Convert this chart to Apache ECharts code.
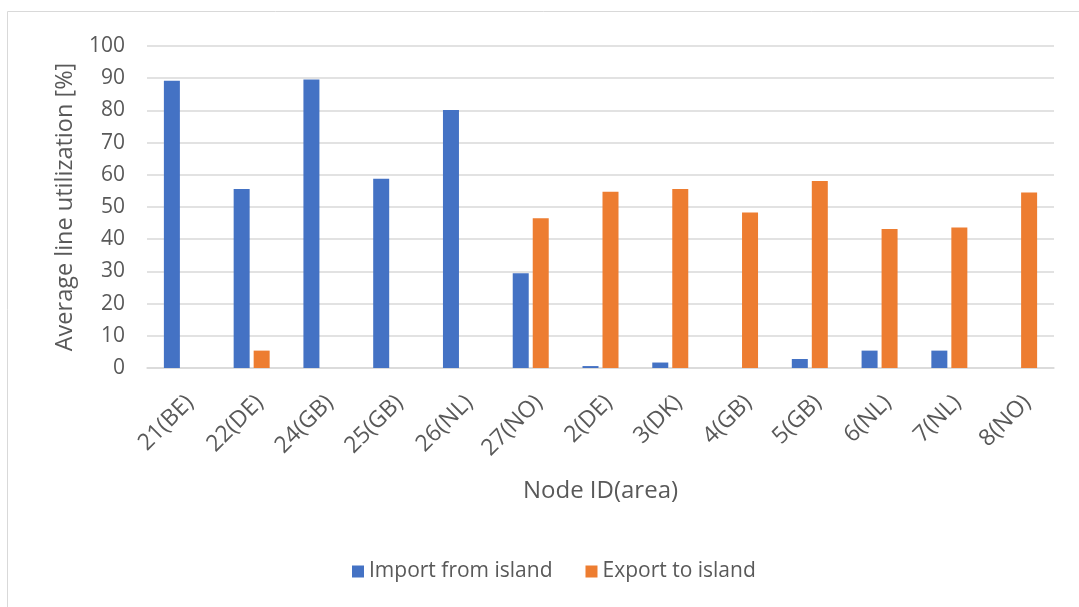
<!DOCTYPE html>
<html>
<head>
<meta charset="utf-8">
<script src="https://cdn.jsdelivr.net/npm/echarts@6/dist/echarts.min.js"></script>
<style>
  html, body { margin: 0; padding: 0; background: #fff; }
  #chart { width: 1079px; height: 607px; }
</style>
</head>
<body>
<div id="chart"></div>
<script>
// node IDs along the x axis
const categories = ['21(BE)', '22(DE)', '24(GB)', '25(GB)', '26(NL)', '27(NO)',
  '2(DE)', '3(DK)', '4(GB)', '5(GB)', '6(NL)', '7(NL)', '8(NO)'];
const importFromIsland = [89.2, 55.6, 89.6, 58.8, 80.1, 29.4, 0.6, 1.7, 0, 2.8, 5.4, 5.4, 0];
const exportToIsland = [0, 5.4, 0, 0, 0, 46.5, 54.7, 55.6, 48.3, 58.1, 43.2, 43.6, 54.5];
const yTicks = [0, 100, 10]; // min, max, interval

const fontFamily = '"Open Sans", Lato, sans-serif';
const textColor = '#595959';
const fontSize = 21;

const chart = echarts.init(document.getElementById('chart'));

chart.setOption({
    animation: false,
    textStyle: { fontFamily: fontFamily },
    graphic: [{
        type: 'rect',
        shape: { x: 7.5, y: 11.5, width: 1090, height: 620 },
        style: { fill: 'none', stroke: '#d9d9d9', lineWidth: 1 },
        silent: true
    }],
    grid: { left: 147, right: 25, top: 46, bottom: 239 },
    legend: {
        bottom: 20,
        left: 347,
        itemWidth: 12,
        itemHeight: 12,
        itemGap: 33,
        icon: 'rect',
        textStyle: { color: textColor, fontSize: fontSize, fontFamily: fontFamily },
        data: ['Import from island', 'Export to island']
    },
    xAxis: {
        type: 'category',
        data: categories,
        name: 'Node ID(area)',
        nameLocation: 'middle',
        nameGap: 111,
        nameTextStyle: { color: textColor, fontSize: 24 },
        axisLine: { lineStyle: { color: '#d9d9d9', width: 1.5 } },
        axisTick: { show: false },
        axisLabel: {
            rotate: 45, margin: 23, verticalAlign: 'top',
            color: textColor, fontSize: 23, interval: 0
        }
    },
    yAxis: {
        type: 'value',
        min: yTicks[0],
        max: yTicks[1],
        interval: yTicks[2],
        name: 'Average line utilization [%]',
        nameLocation: 'middle',
        nameGap: 70,
        nameTextStyle: { color: textColor, fontSize: 23.5 },
        axisLine: { show: false },
        axisTick: { show: false },
        axisLabel: { color: textColor, fontSize: fontSize, margin: 22 },
        splitLine: { lineStyle: { color: '#d9d9d9', width: 1.5 } }
    },
    series: [{
        name: 'Import from island',
        type: 'bar',
        data: importFromIsland,
        barWidth: 16,
        barGap: '25%',
        itemStyle: { color: '#4472c4' }
    }, {
        name: 'Export to island',
        type: 'bar',
        data: exportToIsland,
        barWidth: 16,
        itemStyle: { color: '#ed7d31' }
    }]
});
</script>
</body>
</html>
